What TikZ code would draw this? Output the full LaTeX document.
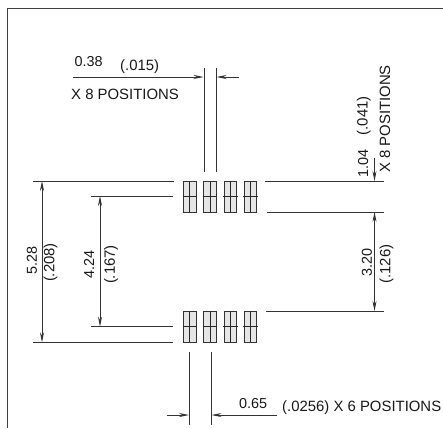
\documentclass[tikz,border=0pt]{standalone}
\usepackage{fontspec}
\setmainfont{Liberation Sans}
\usetikzlibrary{arrows.meta}
\tikzset{
  dimline/.style={draw=black!80,line width=0.8pt},
  dimarrow/.style={dimline,-{Stealth[length=10pt,width=4pt]}},
  bothdim/.style={dimline,{Stealth[length=10pt,width=4pt]}-{Stealth[length=10pt,width=4pt]}},
  frameline/.style={draw=black!75,line width=1.4pt},
  pad/.style={draw=black!80,fill=black!10,line width=1pt},
  padline/.style={draw=black!85,line width=0.8pt},
  lbl/.style={inner sep=0pt,font=\fontsize{14.4}{16}\selectfont,text=black!90},
  lblp/.style={inner sep=0pt,font=\fontsize{14.9}{16}\selectfont,text=black!90},
}
\begin{document}
\begin{tikzpicture}[x=1pt,y=-1pt]
\useasboundingbox (0,0) rectangle (443,428);
\fill[white] (0,0) rectangle (443,428);
\draw[frameline] (7.5,428) -- (7.5,8.8) -- (443,8.8);
% pads
\foreach \x in {183.5,203.7,224,244.2}{
  \foreach \y in {181,311}{
    \draw[pad] (\x,\y) rectangle ++(12.6,31.2);
    \draw[padline] (\x+6.3,\y) -- ++(0,31.2);
    \draw[padline] (\x-1,\y+15.6) -- ++(14.6,0);
  }
}
% extension lines left
\coordinate (LA) at (33,181); \coordinate (LAe) at (174,181);
\coordinate (LB) at (91,196); \coordinate (LBe) at (173,196);
\coordinate (LC) at (91,326.7); \coordinate (LCe) at (173,326.7);
\coordinate (LD) at (33,342.3); \coordinate (LDe) at (173,342.3);
\draw[dimline] (LA)--(LAe) (LB)--(LBe) (LC)--(LCe) (LD)--(LDe);
% extension lines right
\coordinate (RA) at (265,181); \coordinate (RAe) at (384,181);
\coordinate (RB) at (267,212); \coordinate (RBe) at (384,212);
\coordinate (RC) at (266,311); \coordinate (RCe) at (384,311);
\draw[dimline] (RA)--(RAe) (RB)--(RBe) (RC)--(RCe);
% vertical dims
\coordinate (a1) at (42,181); \coordinate (a2) at (42,342.3);
\coordinate (b1) at (100,196); \coordinate (b2) at (100,326.7);
\coordinate (c1) at (374.5,212); \coordinate (c2) at (374.5,311);
\coordinate (d1) at (374.5,158); \coordinate (d2) at (374.5,181);
\draw[bothdim] (a1)--(a2);
\draw[bothdim] (b1)--(b2);
\draw[bothdim] (c1)--(c2);
\draw[dimarrow] (d1)--(d2);
% top witness
\coordinate (t1) at (204,68); \coordinate (t1e) at (204,172);
\coordinate (t2) at (216,68); \coordinate (t2e) at (216,172);
\draw[dimline] (t1)--(t1e) (t2)--(t2e);
\coordinate (ta) at (73,77); \coordinate (tb) at (203.5,77);
\coordinate (tc) at (239,77); \coordinate (td) at (216.5,77);
\draw[dimarrow] (ta)--(tb);
\draw[dimarrow] (tc)--(td);
% bottom witness
\coordinate (u1) at (189.5,352); \coordinate (u1e) at (189.5,425);
\coordinate (u2) at (211,352); \coordinate (u2e) at (211,425);
\draw[dimline] (u1)--(u1e) (u2)--(u2e);
\coordinate (ua) at (166.5,415); \coordinate (ub) at (189,415);
\coordinate (uc) at (277,415); \coordinate (ud) at (211.5,415);
\draw[dimarrow] (ua)--(ub);
\draw[dimarrow] (uc)--(ud);
% labels
\node[lbl,anchor=base west] (n1) at (74.5,66) {0.38};
\node[lblp,anchor=base west] (n2) at (120,70.5) {(.015)};
\node[lblp,anchor=base west] (n3) at (71,99.5) {X 8 POSITIONS};
\node[lbl,anchor=base west] (n4) at (239,408.3) {0.65};
\node[lblp,anchor=base west] (n5) at (282,411) {(.0256) X 6 POSITIONS};
\node[lbl,rotate=90,anchor=center] (n6) at (32,260.5) {5.28};
\node[lblp,rotate=90,anchor=center] (n7) at (50.5,262.5) {(.208)};
\node[lbl,rotate=90,anchor=center] (n8) at (89,264.5) {4.24};
\node[lblp,rotate=90,anchor=center] (n9) at (111,264.5) {(.167)};
\node[lbl,rotate=90,anchor=center] (n10) at (367,262) {3.20};
\node[lblp,rotate=90,anchor=center] (n11) at (386.5,264) {(.126)};
\node[lbl,rotate=90,anchor=base west] (n12) at (368,178) {1.04};
\node[lblp,rotate=90,anchor=base west] (n13) at (367.5,135.5) {(.041)};
\node[lblp,rotate=90,anchor=base west] (n14) at (390,173) {X 8 POSITIONS};
\end{tikzpicture}
\end{document}
